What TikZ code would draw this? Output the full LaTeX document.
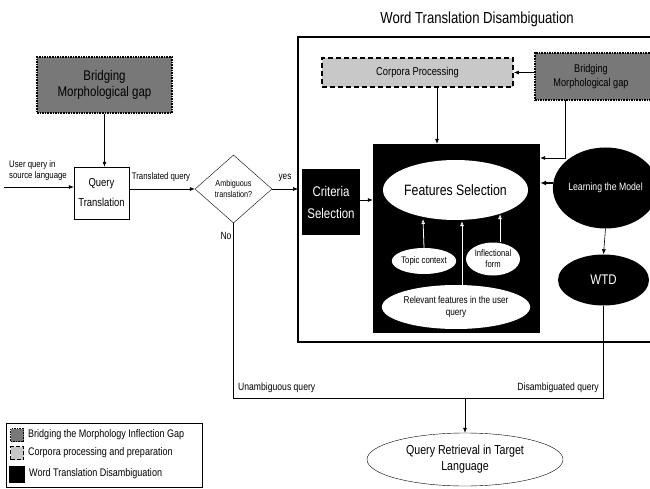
\documentclass[tikz,border=0pt]{standalone}
\usepackage{fontspec}
\setmainfont{Liberation Sans}[FakeStretch=0.82]
\usetikzlibrary{shapes.geometric,arrows.meta}
\definecolor{dgray}{RGB}{120,120,120}
\definecolor{lgray}{RGB}{200,200,200}
\tikzset{
  bridge/.style={draw=black,fill=dgray,line width=1.6pt,densely dotted,align=center,inner sep=0pt},
  corp/.style={draw=black,fill=lgray,line width=1.6pt,dash pattern=on 5pt off 3pt,align=center,inner sep=0pt},
  blk/.style={fill=black,text=white,align=center,inner sep=0pt},
  wbox/.style={draw=black,fill=white,align=center,inner sep=0pt},
  wel/.style={ellipse,fill=white,text=black,align=center,inner sep=0pt},
  bel/.style={ellipse,fill=black,text=white,align=center,inner sep=0pt},
  arr/.style={-{Latex[length=5pt,width=4pt]},line width=0.6pt},
  warr/.style={-{Latex[open,length=5pt,width=4pt]},draw=white,line width=0.8pt},
  lab/.style={font=\fontsize{9.5}{11}\selectfont,align=center,inner sep=0pt},
  legtext/.style={anchor=west,inner sep=0pt,font=\fontsize{11}{13}\selectfont}
}
\begin{document}
\begin{tikzpicture}[x=1pt,y=-1pt]
\useasboundingbox (0,0) rectangle (650,489);
\clip (0,0) rectangle (650,489);
\fill[white] (0,0) rectangle (650,489);
% frame
\node[font=\fontsize{16}{18}\selectfont] (title) at (477,19) {Word Translation Disambiguation};
\draw[line width=1.8pt] (298,37) rectangle (670,342);
% left side
\node[bridge,minimum width=135pt,minimum height=56pt,font=\fontsize{14}{16}\selectfont] (bl) at (104.5,85) {Bridging\\Morphological gap};
\node[wbox,minimum width=55pt,minimum height=52pt,font=\fontsize{11.5}{20}\selectfont] (qt) at (101.5,193) {Query\\Translation};
\coordinate (in) at (4,187);
\node[lab,align=left,anchor=south west] (uq) at (9,181) {User query in\\source language};
\node[diamond,draw=black,fill=white,minimum width=77pt,minimum height=68pt,inner sep=0pt,align=center,font=\fontsize{8.8}{11}\selectfont] (amb) at (233.5,189) {Ambiguous\\translation?};
\node[lab,anchor=south] (tq) at (161,182) {Translated query};
\node[lab,font=\fontsize{10}{12}\selectfont] (yes) at (285,178) {yes};
\node[lab,font=\fontsize{10.5}{12}\selectfont] (no) at (226,236) {No};
% WTD region
\node[blk,minimum width=58pt,minimum height=66pt,font=\fontsize{14}{22}\selectfont] (crit) at (331,202) {Criteria\\Selection};
\node[corp,minimum width=191pt,minimum height=29pt,font=\fontsize{11.4}{13}\selectfont] (corp) at (417.5,72.5) {Corpora Processing};
\node[bridge,minimum width=130pt,minimum height=47pt] (br) at (600,76.5) {};
\node[align=center,inner sep=0pt,font=\fontsize{11.2}{14}\selectfont] (brt) at (591,76.5) {Bridging\\Morphological gap};
\node[blk,minimum width=167pt,minimum height=189pt] (fbox) at (456.5,238.5) {};
\node[wel,minimum width=127pt,minimum height=60pt,font=\fontsize{15}{17}\selectfont] (fs) at (455.5,190) {Features Selection};
\node[wel,minimum width=58pt,minimum height=26pt,font=\fontsize{9.5}{11}\selectfont] (tc) at (424,261) {Topic context};
\node[wel,minimum width=54pt,minimum height=33pt,font=\fontsize{9.3}{11}\selectfont] (inf) at (493,259) {Inflectional\\form};
\node[wel,minimum width=122pt,minimum height=44pt,font=\fontsize{10}{12}\selectfont] (rel) at (456,307) {Relevant features in the user\\query};
\node[bel,minimum width=85pt,minimum height=81pt,font=\fontsize{10.6}{12}\selectfont] (lm) at (605.5,188) {Learning the Model};
\node[bel,minimum width=91pt,minimum height=51pt,font=\fontsize{14}{16}\selectfont] (wtd) at (603.5,280) {WTD};
% bottom
\node[ellipse,draw=black,fill=white,minimum width=196pt,minimum height=53pt,inner sep=0pt,align=center,font=\fontsize{13}{16}\selectfont] (qr) at (465,459.5) {Query Retrieval in Target\\Language};
\coordinate (join) at (465,398.5);
\node[lab,font=\fontsize{10.5}{12}\selectfont,anchor=south west] (ul) at (238,393) {Unambiguous query};
\node[lab,font=\fontsize{10.5}{12}\selectfont,anchor=south east] (dl) at (599,393) {Disambiguated query};
% connectors
\draw[arr] (bl.south) -- (bl.south |- qt.north);
\draw[arr] (in) -- (in -| qt.west);
\draw[arr] (qt.east |- amb.west) -- (amb.west);
\draw[arr] (amb.east) -- (298,189);
\draw[arr] (crit.east |- 0,200) -- (fbox.west |- 0,200);
\draw[arr] (br.west |- corp.east) -- (corp.east);
\draw[arr] (corp.south -| 437,0) -- (fbox.north -| 437,0);
\draw[arr] (565,100) -- (565,158) -- (fbox.east |- 0,158);
\draw[-{Latex[length=6pt,width=5pt]},line width=1.4pt] (lm.west |- 0,183) -- (fbox.east |- 0,183);
\draw[arr] (lm.south) -- (wtd.north);
\draw[warr] (tc.north) -- (423,219);
\draw[warr] (rel.north -| 462,0) -- (462,221);
\draw[warr] (inf.north -| 500,0) -- (500,214);
\draw[line width=0.6pt] (amb.south) |- (join);
\draw[line width=0.6pt] (wtd.south) |- (join);
\draw[arr] (join) -- (qr.north);
% legend
\node[draw=black,fill=white,minimum width=196pt,minimum height=64pt,inner sep=0pt] (leg) at (104,455) {};
\node[bridge,minimum width=13pt,minimum height=13pt,line width=1.2pt] (li1) at (17,435) {};
\node[corp,minimum width=13pt,minimum height=13pt,line width=1.4pt,dash pattern=on 4pt off 2pt] (li2) at (17,453) {};
\node[fill=black,minimum width=16pt,minimum height=17pt,inner sep=0pt] (li3) at (17,474.5) {};
\node[legtext] (lt1) at (28,435) {Bridging the Morphology Inflection Gap};
\node[legtext] (lt2) at (28,453) {Corpora processing and preparation};
\node[legtext] (lt3) at (29,474) {Word Translation Disambiguation};
\end{tikzpicture}
\end{document}
